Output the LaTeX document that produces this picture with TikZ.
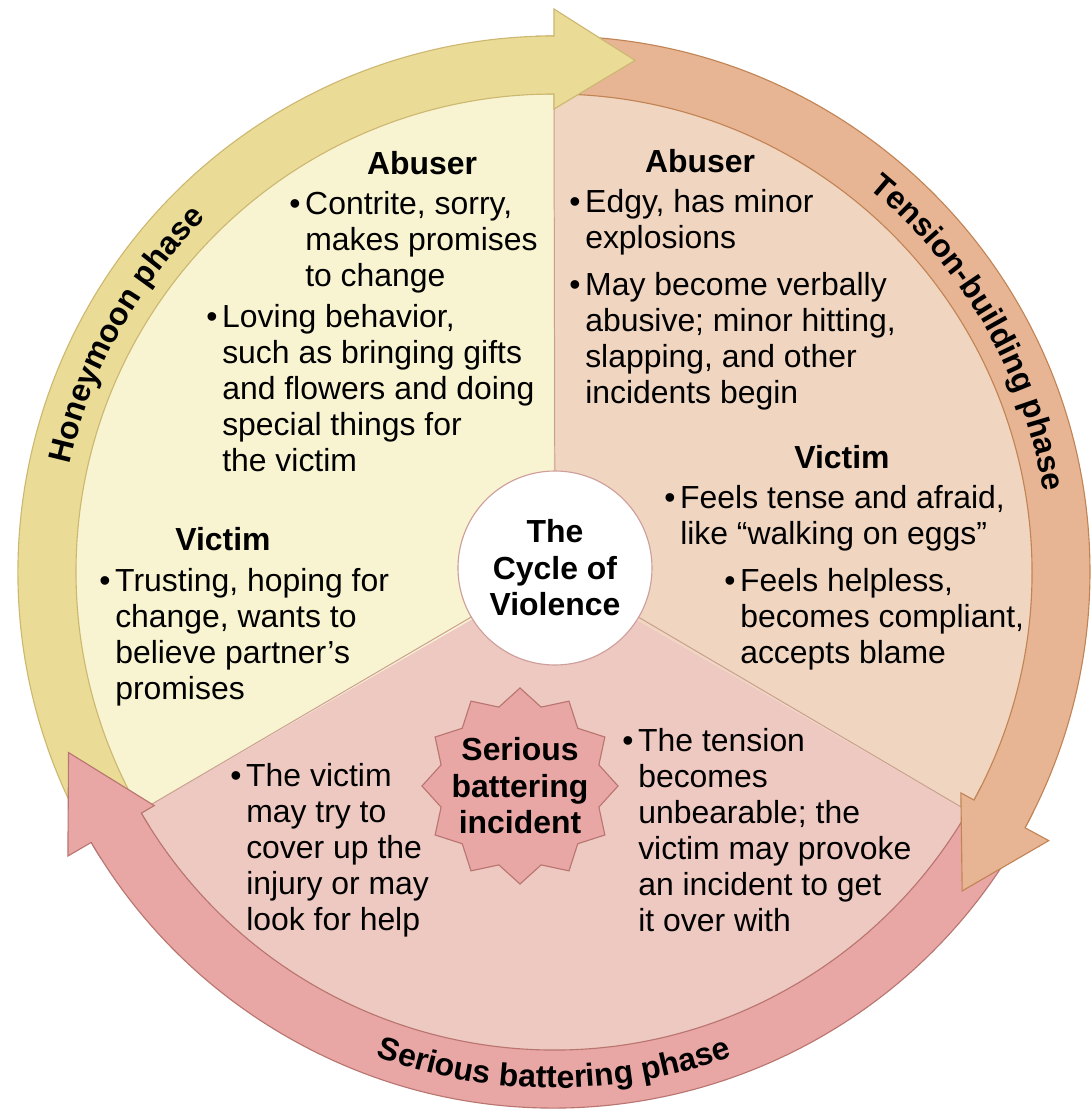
\documentclass[tikz,border=0pt]{standalone}
\usepackage{fontspec}
\setmainfont{Liberation Sans}
\usepackage{tikz}
\usetikzlibrary{shapes.geometric,decorations.text}

\definecolor{yband}{HTML}{EADC96}
\definecolor{yline}{HTML}{CDB872}
\definecolor{ysector}{HTML}{F8F3D0}
\definecolor{oband}{HTML}{E7B594}
\definecolor{oline}{HTML}{C28454}
\definecolor{osector}{HTML}{F0D5C0}
\definecolor{pband}{HTML}{E8A6A5}
\definecolor{pline}{HTML}{B9756F}
\definecolor{psector}{HTML}{EEC9C1}
\definecolor{divline}{HTML}{C9A08F}

\newcommand{\bodyfont}{\fontsize{22.7}{25.6}\selectfont}
\newcommand{\headfont}{\bfseries\fontsize{22.7}{26}\selectfont}
\newcommand{\bandfont}{\bfseries\fontsize{22.7}{26}\selectfont}
\newcommand{\bul}{\llap{\textbullet\hspace{0.15em}}}

\begin{document}
\begin{tikzpicture}[scale=0.25,every node/.style={inner sep=0pt},
  blurb/.style={anchor=north west,align=left,font=\bodyfont},
  heading/.style={anchor=base,font=\headfont},
  ybody/.style={fill=yband,draw=yline,line width=0.8pt},
  obody/.style={fill=oband,draw=oline,line width=0.8pt},
  pbody/.style={fill=pband,draw=pline,line width=0.8pt},
  bandtext/.style={decorate,decoration={text along path,text align=center,text={|\bandfont|#1}}}]
  \path[use as bounding box,fill=white] (-55.4,57.2) rectangle (53.8,-54.3);
  % the three sectors
  \fill[ysector] (0,0) -- (90:47.8) arc[start angle=90,end angle=210,radius=47.8] -- cycle;
  \fill[psector] (0,0) -- (210:47.8) arc[start angle=210,end angle=330,radius=47.8] -- cycle;
  \fill[osector] (0,0) -- (-30:47.8) arc[start angle=-30,end angle=90,radius=47.8] -- cycle;
  \node[circle,draw=pline!70,fill=white,line width=0.8pt,minimum size=4.85cm,align=center,font=\headfont] (hub) at (0.1,0.4) {The\\Cycle of\\Violence};
  \coordinate (d1) at (90:47.8);
  \coordinate (d2) at (210:47.8);
  \coordinate (d3) at (-30:47.8);
  \draw[divline,line width=0.7pt] (hub) -- (d1);
  \draw[divline,line width=0.7pt] (hub) -- (d2);
  \draw[divline,line width=0.7pt] (hub) -- (d3);
  % ring bodies
  \filldraw[obody] (88.5:53.6) arc[start angle=88.5,end angle=-28.5,radius=53.6] -- (-28.5:47.8) arc[start angle=-28.5,end angle=88.5,radius=47.8] -- cycle;
  \filldraw[pbody] (-30:53.6) arc[start angle=-30,end angle=-149.7,radius=53.6] -- (-149.7:47.8) arc[start angle=-149.7,end angle=-30,radius=47.8] -- cycle;
  \filldraw[ybody] (208.8:53.6) arc[start angle=208.8,end angle=90,radius=53.6] -- (90:47.8) arc[start angle=90,end angle=208.8,radius=47.8] -- cycle;
  % heads
  \filldraw[ybody] (92:53.6) arc[start angle=92,end angle=90,radius=53.6] -- (90:56.3) -- (81:51.8) -- (90:46.3) -- (90:47.8) arc[start angle=90,end angle=92,radius=47.8];
  \filldraw[obody] (-26.5:53.6) arc[start angle=-26.5,end angle=-28.5,radius=53.6] -- (-28.5:56.3) -- (-38:51.8) -- (-28.5:46.3) -- (-28.5:47.8) arc[start angle=-28.5,end angle=-26.5,radius=47.8];
  \filldraw[pbody] (-147.7:53.6) arc[start angle=-147.7,end angle=-149.7,radius=53.6] -- (-149.7:56.3) -- (-159.6:51.8) -- (-149.7:46.3) -- (-149.7:47.8) arc[start angle=-149.7,end angle=-147.7,radius=47.8];
  % phase labels
  \path[bandtext=Honeymoon phase] (196:49.6) arc[start angle=196,end angle=106,radius=49.6];
  \path[bandtext=Tension-building phase] (75:49.6) arc[start angle=75,end angle=-15,radius=49.6];
  \path[bandtext=Serious battering phase] (-135:51.6) arc[start angle=-135,end angle=-45,radius=51.6];
  % incident
  \node[star,star points=12,star point ratio=1.2,minimum size=4.9cm,fill=pband,draw=pline,line width=0.8pt] (burst) at (-3.4,-21.4) {};
  \node[align=center,font=\headfont] (incident) at (burst) {Serious\\battering\\incident};
  % honeymoon side
  \node[heading] (abL) at (-13.2,39.7) {Abuser};
  \node[blurb] (abL1) at (-24.9,38.05) {\bul Contrite, sorry,\\makes promises\\to change};
  \node[blurb] (abL2) at (-33.2,26.75) {\bul Loving behavior,\\such as bringing gifts\\and flowers and doing\\special things for\\the victim};
  \node[heading] (viL) at (-33.1,2.2) {Victim};
  \node[blurb] (viL1) at (-43.9,0.35) {\bul Trusting, hoping for\\change, wants to\\believe partner's\\promises};
  % tension side
  \node[heading] (abR) at (14.6,39.9) {Abuser};
  \node[blurb] (abR1) at (3.1,38.25) {\bul Edgy, has minor\\explosions};
  \node[blurb] (abR2) at (3.1,29.95) {\bul May become verbally\\abusive; minor hitting,\\slapping, and other\\incidents begin};
  \node[heading] (viR) at (28.8,10.4) {Victim};
  \node[blurb] (viR1) at (12.6,8.65) {\bul Feels tense and afraid,\\like ``walking on eggs''};
  \node[blurb] (viR2) at (18.6,0.35) {\bul Feels helpless,\\becomes compliant,\\accepts blame};
  % battering side
  \node[blurb] (batL) at (-30.8,-19.15) {\bul The victim\\may try to\\cover up the\\injury or may\\look for help};
  \node[blurb] (batR) at (8.4,-15.65) {\bul The tension\\becomes\\unbearable; the\\victim may provoke\\an incident to get\\it over with};
\end{tikzpicture}
\end{document}
